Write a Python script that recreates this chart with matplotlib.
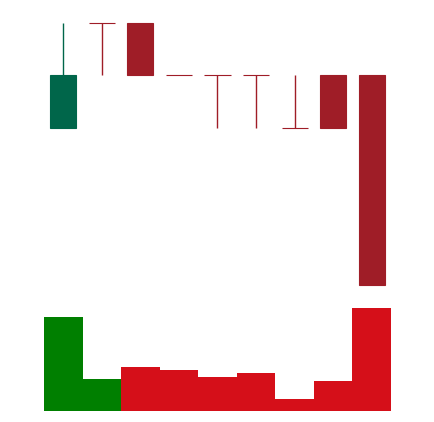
import matplotlib
matplotlib.use("Agg")
import matplotlib.pyplot as plt

# OHLC + volume for 9 periods
opens = [8, 10, 10, 9, 9, 9, 8, 9, 9]
highs = [10, 10, 10, 9, 9, 9, 9, 9, 9]
lows = [8, 9, 9, 9, 8, 8, 8, 8, 5]
closes = [9, 10, 9, 9, 9, 9, 8, 8, 5]
volumes = [94, 32, 44, 41, 34, 38, 12, 30, 103]

up_color = "#00664a"
down_color = "#9f1d27"
vol_up = "#007f00"
vol_down = "#d50f19"

fig = plt.figure(figsize=(4.34, 4.22), dpi=100)
W, H = 434, 422

# price panel
ax = fig.add_axes([44 / W, (H - 285) / H, 347 / W, (285 - 23) / H])
x = list(range(len(opens)))
for i in x:
    o, h, l, c = opens[i], highs[i], lows[i], closes[i]
    col = up_color if c > o else down_color
    ax.vlines(i, l, h, color=col, linewidth=1, clip_on=False)
    ax.bar(i, abs(c - o), bottom=min(o, c), width=0.68, color=col,
           edgecolor=col, linewidth=0.8, clip_on=False)
ax.set_xlim(-0.5, 8.5)
ax.set_ylim(5, 10)
ax.axis("off")

# volume panel - green when close is above previous close
vcols = [vol_up]
for i in x[1:]:
    vcols.append(vol_up if closes[i] > closes[i - 1] else vol_down)

vax = fig.add_axes([44 / W, (H - 411) / H, 347 / W, max(volumes) / H])
vax.bar(x, volumes, width=1.0, color=vcols, linewidth=0)
vax.set_xlim(-0.5, 8.5)
vax.set_ylim(0, max(volumes))
vax.axis("off")

fig.savefig("out.png", dpi=100)
